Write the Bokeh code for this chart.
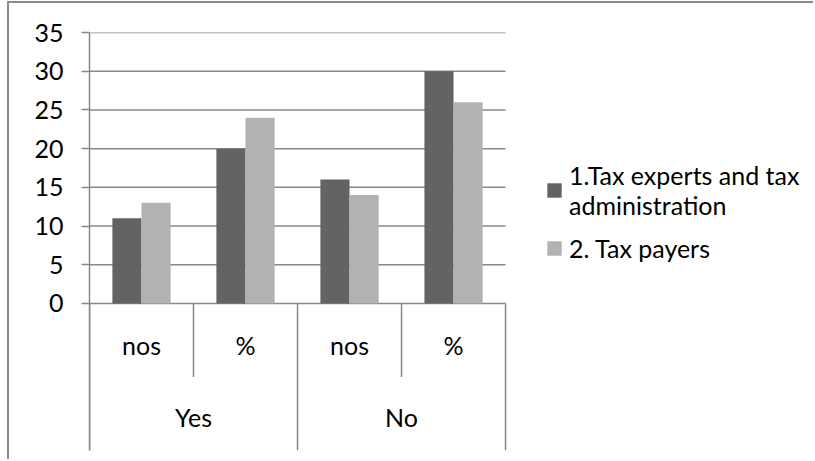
from bokeh.plotting import figure
from bokeh.models import Range1d, FixedTicker, Legend, LegendItem
from bokeh.core.properties import value
from bokeh.embed import file_html
from bokeh.resources import INLINE

# ---- data ----
groups = ["Yes", "Yes", "No", "No"]
subcats = ["nos", "%", "nos", "%"]
experts = [11, 20, 16, 30]
payers = [13, 24, 14, 26]
series_names = ["1.Tax experts and tax\nadministration", "2. Tax payers"]
y_ticks = [0, 5, 10, 15, 20, 25, 30, 35]

# ---- style ----
FONT = "Lato"
FS = "25px"
GRID = "#888888"
DARK = "#636363"
LIGHT = "#b2b2b2"
BAR_W = 0.28
Y_MIN = -18.99
X_END = 6.98
SUB_LABEL_Y = -5.35
GROUP_LABEL_Y = -14.6
SUB_SEP_Y = -9.5

n = len(subcats)
p = figure(width=806, height=458, output_backend="svg", toolbar_location=None,
           x_range=Range1d(0, X_END), y_range=Range1d(Y_MIN, y_ticks[-1]),
           min_border_left=80, min_border_right=0, min_border_top=29,
           min_border_bottom=11)
p.styles = {"margin-left": "7px", "margin-top": "1px",
            "border-left": "2px solid #8a8a8a", "border-top": "2px solid #8a8a8a"}

p.outline_line_color = None
p.xaxis.visible = False
p.xgrid.visible = False
p.ygrid.visible = False
p.yaxis.ticker = FixedTicker(ticks=y_ticks)
p.yaxis.major_tick_in = 0
p.yaxis.major_tick_out = 8
p.yaxis.minor_tick_line_color = None
p.yaxis.axis_line_color = GRID
p.yaxis.axis_line_width = 1.5
p.yaxis.major_tick_line_color = GRID
p.yaxis.major_tick_line_width = 1.5
p.yaxis.major_label_text_font = FONT
p.yaxis.major_label_text_font_size = FS
p.yaxis.major_label_text_color = "black"
p.yaxis.major_label_standoff = 18

# horizontal gridlines across the category area only
p.segment(x0=[0] * len(y_ticks), x1=[n] * len(y_ticks), y0=y_ticks, y1=y_ticks,
          line_color=GRID, line_width=1.5)

xs = [i + 0.5 for i in range(n)]
r1 = p.vbar(x=[x - BAR_W / 2 for x in xs], top=experts, bottom=0, width=BAR_W,
            fill_color=DARK, line_color=None)
r2 = p.vbar(x=[x + BAR_W / 2 for x in xs], top=payers, bottom=0, width=BAR_W,
            fill_color=LIGHT, line_color=None)

# category axis (Excel style, multi-level)
bounds = list(range(n + 1))
bottoms = []
for b in bounds:
    if b == 0 or b == n or groups[b] != groups[b - 1]:
        bottoms.append(Y_MIN)
    else:
        bottoms.append(SUB_SEP_Y)
p.segment(x0=bounds, y0=[0] * len(bounds), x1=bounds, y1=bottoms,
          line_color=GRID, line_width=1.5)

p.text(x=xs, y=[SUB_LABEL_Y] * n, text=subcats, text_align="center",
       text_baseline="middle", text_font=value(FONT), text_font_size=FS,
       text_color="black")

ug = []
for g in groups:
    if g not in ug:
        ug.append(g)
gx = [sum(xs[i] for i in range(n) if groups[i] == g) / groups.count(g) for g in ug]
p.text(x=gx, y=[GROUP_LABEL_Y] * len(ug), text=ug, text_align="center",
       text_baseline="middle", text_font=value(FONT), text_font_size=FS,
       text_color="black")

legend = Legend(items=[LegendItem(label=series_names[0], renderers=[r1]),
                       LegendItem(label=series_names[1], renderers=[r2])],
                location=(456, 187))
legend.border_line_color = None
legend.background_fill_alpha = 0
legend.margin = 0
legend.padding = 0
legend.glyph_width = 18
legend.glyph_height = 18
legend.label_standoff = 6
legend.spacing = 13
legend.label_text_font = FONT
legend.label_text_font_size = FS
legend.label_text_color = "black"
legend.label_text_line_height = 1.16
p.add_layout(legend, "center")

open("out.html", "w").write(file_html(p, INLINE))
